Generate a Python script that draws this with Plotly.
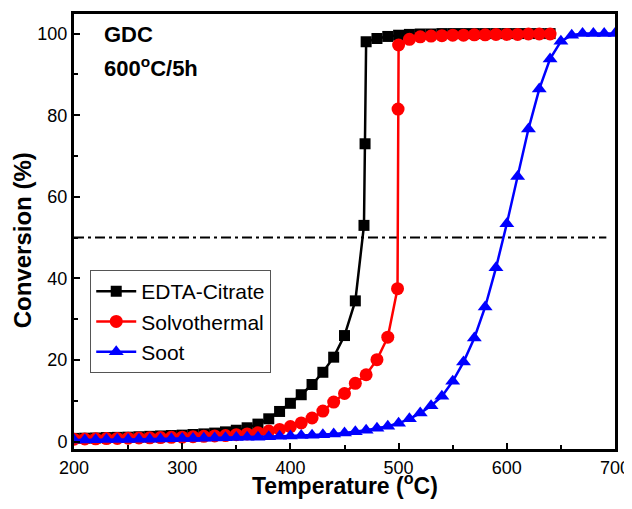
import plotly.graph_objects as go

# ---- data ----
edta_T = [200, 210, 220, 230, 240, 250, 260, 270, 280, 290, 300, 310, 320, 330, 340,
          350, 360, 370, 380, 390, 400, 410, 420, 430, 440, 450, 460, 468, 469, 470,
          480, 490, 500, 510, 520, 530, 540, 550, 560, 570, 580, 590, 600, 610, 620,
          630, 640]
edta_C = [0.8, 0.85, 0.9, 1.0, 1.05, 1.1, 1.2, 1.3, 1.4, 1.5, 1.6, 1.75, 1.9, 2.1, 2.4,
          2.8, 3.4, 4.3, 5.6, 7.4, 9.4, 11.5, 14.0, 17.0, 20.7, 26.0, 34.5, 53.0, 73.0, 98.0,
          98.8, 99.3, 99.6, 99.8, 99.9, 99.9, 100, 100, 100, 100, 100, 100, 100, 100, 100,
          100, 100]

solvo_T = [200, 210, 220, 230, 240, 250, 260, 270, 280, 290, 300, 310, 320, 330, 340,
           350, 360, 370, 380, 390, 400, 410, 420, 430, 440, 450, 460, 470, 480, 490,
           499, 499.5, 500, 510, 520, 530, 540, 550, 560, 570, 580, 590, 600, 610, 620,
           630, 640]
solvo_C = [0.6, 0.65, 0.7, 0.75, 0.8, 0.85, 0.9, 0.95, 1.0, 1.05, 1.1, 1.2, 1.3, 1.4, 1.5,
           1.7, 1.9, 2.2, 2.6, 3.0, 3.7, 4.6, 5.8, 7.5, 9.7, 11.8, 14.3, 16.4, 20.1, 25.6,
           37.5, 81.5, 97.2, 98.6, 99.2, 99.4, 99.5, 99.6, 99.6, 99.7, 99.7, 99.8, 99.8, 99.8, 99.9,
           99.9, 99.9]

soot_T = [200, 210, 220, 230, 240, 250, 260, 270, 280, 290, 300, 310, 320, 330, 340,
          350, 360, 370, 380, 390, 400, 410, 420, 430, 440, 450, 460, 470, 480, 490,
          500, 510, 520, 530, 540, 550, 560, 570, 580, 590, 600, 610, 620, 630, 640,
          650, 660, 670, 680, 690, 700]
soot_C = [0.4, 0.4, 0.45, 0.5, 0.5, 0.55, 0.6, 0.6, 0.65, 0.7, 0.75, 0.8, 0.85, 0.9, 0.95,
          1.0, 1.05, 1.1, 1.2, 1.3, 1.4, 1.5, 1.6, 1.7, 1.9, 2.1, 2.4, 2.8, 3.3, 3.8,
          4.5, 5.6, 7.0, 8.8, 11.1, 14.8, 19.5, 25.4, 33.0, 42.6, 53.4, 65.0, 76.6, 86.4, 93.8,
          98.1, 99.6, 100, 100, 100, 100]

ref_T = [200, 692]
ref_C = [50, 50]

FONT = "Arial, Liberation Sans, sans-serif"

fig = go.Figure()
fig.add_trace(go.Scatter(x=ref_T, y=ref_C, mode="lines", showlegend=False,
                         line=dict(color="black", width=2, dash="10px,4px,3px,4px")))
fig.add_trace(go.Scatter(x=edta_T, y=edta_C, mode="lines+markers", name="EDTA-Citrate",
                         line=dict(color="black", width=2.5),
                         marker=dict(symbol="square", size=11, color="black")))
fig.add_trace(go.Scatter(x=solvo_T, y=solvo_C, mode="lines+markers", name="Solvothermal",
                         line=dict(color="#ff0000", width=2.5),
                         marker=dict(symbol="circle", size=13, color="#ff0000")))
fig.add_trace(go.Scatter(x=soot_T, y=soot_C, mode="lines+markers", name="Soot",
                         line=dict(color="#0000ff", width=2.5),
                         marker=dict(symbol="triangle-up", size=13, color="#0000ff")))

axis_common = dict(showline=True, linecolor="black", linewidth=3, mirror=True,
                   ticks="inside", ticklen=6, tickwidth=2, tickcolor="black",
                   showgrid=False, zeroline=False, automargin=False,
                   ticklabeloverflow="allow",
                   tickfont=dict(family=FONT, size=18, color="black"))

fig.update_xaxes(range=[200, 700], dtick=100, tick0=200,
                 minor=dict(ticks="inside", ticklen=4, tickwidth=2, tickcolor="black", dtick=50),
                 **axis_common)
fig.update_yaxes(range=[-1.8, 104.8], dtick=20, tick0=0,
                 minor=dict(ticks="inside", ticklen=4, tickwidth=2, tickcolor="black", dtick=10),
                 **axis_common)

# axis titles
fig.add_annotation(x=0.5, y=-0.1195, xref="paper", yref="paper", xanchor="center", yanchor="bottom",
                   text="<b>Temperature (<sup>o</sup>C)</b>", showarrow=False,
                   font=dict(family=FONT, size=23, color="black"))
fig.add_annotation(x=-0.096, y=0.48, xref="paper", yref="paper", xanchor="center", yanchor="middle",
                   text="<b>Conversion (%)</b>", showarrow=False, textangle=-90,
                   font=dict(family=FONT, size=24, color="black"))

fig.add_annotation(x=0.052, y=0.954, xref="paper", yref="paper", xanchor="left", yanchor="middle",
                   text="<b>GDC</b>", showarrow=False,
                   font=dict(family=FONT, size=22, color="black"))
fig.add_annotation(x=0.052, y=0.878, xref="paper", yref="paper", xanchor="left", yanchor="middle",
                   text="<b>600<sup>o</sup>C/5h</b>", showarrow=False,
                   font=dict(family=FONT, size=22, color="black"))

# page body has an 8px margin; the figure is sized/offset to compensate
fig.update_layout(
    width=616, height=493,
    margin=dict(l=66, r=9, t=6, b=52),
    paper_bgcolor="white", plot_bgcolor="white",
    legend=dict(x=0.03, y=0.4115, xanchor="left", yanchor="top",
                bordercolor="#555555", borderwidth=1, bgcolor="white",
                font=dict(family=FONT, size=21, color="black"),
                tracegroupgap=0, itemwidth=40),
    font=dict(family=FONT, color="black"),
)

fig.write_html("out.html")
